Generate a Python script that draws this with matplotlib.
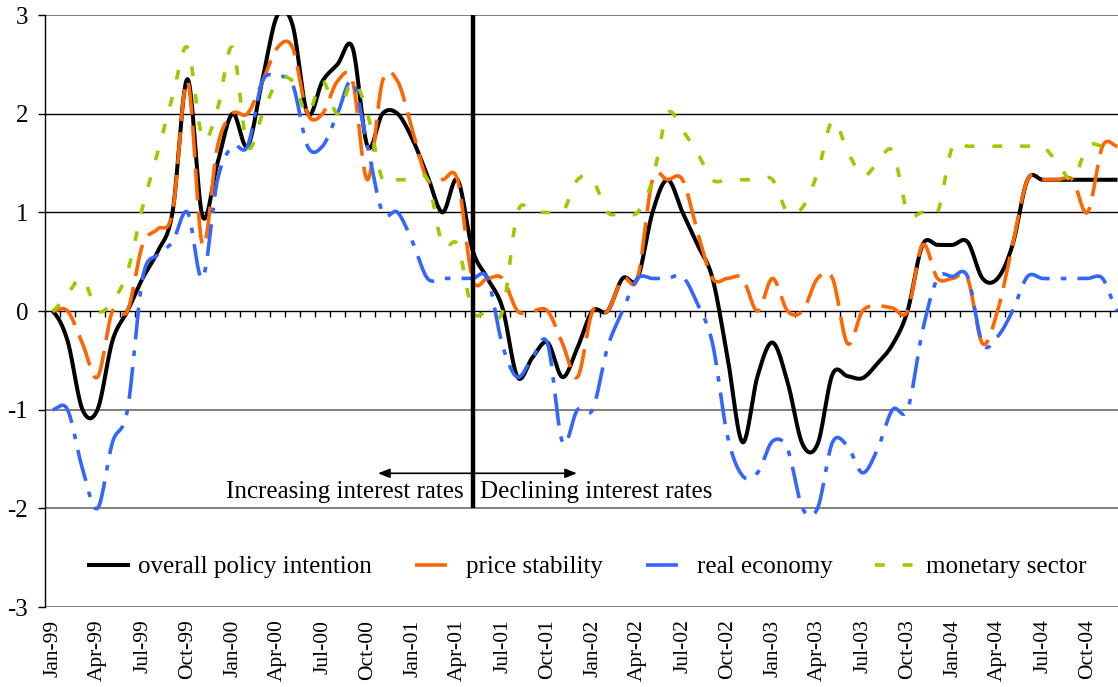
import numpy as np
import pandas as pd
import matplotlib
matplotlib.use("Agg")
import matplotlib.pyplot as plt
from matplotlib.ticker import FixedLocator

plt.rcParams['font.family'] = ['Liberation Serif', 'DejaVu Serif']
plt.rcParams['lines.scale_dashes'] = False

# ---------------- data ----------------
months = pd.date_range('1999-01-01', periods=72, freq='MS').strftime('%b-%y').tolist()

overall = [0.0, -0.3, -1.0, -1.0, -0.3, 0.0, 0.33, 0.6, 1.0, 2.35, 0.96, 1.5,
           2.0, 1.67, 2.35, 3.0, 2.9, 2.0, 2.33, 2.5, 2.67, 1.67, 2.0, 2.0,
           1.74, 1.37, 1.0, 1.33, 0.62, 0.33, 0.03, -0.67, -0.47, -0.32, -0.67, -0.37,
           0.0, 0.0, 0.33, 0.33, 1.0, 1.33, 1.0, 0.67, 0.33, -0.47, -1.33, -0.66,
           -0.32, -0.72, -1.35, -1.35, -0.64, -0.66, -0.68, -0.53, -0.34, 0.0, 0.67, 0.67,
           0.67, 0.7, 0.33, 0.33, 0.67, 1.33, 1.33, 1.33, 1.33, 1.33, 1.33, 1.33]

price = [0.0, 0.0, -0.33, -0.67, 0.0, 0.0, 0.67, 0.83, 1.0, 2.33, 0.67, 1.67,
         2.0, 2.0, 2.33, 2.67, 2.67, 2.0, 2.0, 2.33, 2.33, 1.33, 2.33, 2.33,
         1.83, 1.33, 1.33, 1.33, 0.33, 0.33, 0.33, 0.0, 0.0, 0.0, -0.33, -0.67,
         0.0, 0.0, 0.33, 0.33, 1.33, 1.33, 1.33, 0.8, 0.33, 0.33, 0.33, 0.0,
         0.33, 0.0, 0.0, 0.33, 0.33, -0.33, 0.0, 0.05, 0.03, 0.0, 0.67, 0.33,
         0.33, 0.33, -0.33, 0.0, 0.67, 1.33, 1.33, 1.33, 1.33, 1.0, 1.67, 1.67]

real = [-1.0, -1.0, -1.6, -2.0, -1.33, -1.0, 0.33, 0.57, 0.7, 1.0, 0.33, 1.33,
        1.67, 1.67, 2.33, 2.37, 2.3, 1.67, 1.67, 2.0, 2.33, 1.67, 1.0, 1.0,
        0.7, 0.33, 0.33, 0.33, 0.33, 0.33, -0.35, -0.67, -0.47, -0.33, -1.33, -1.0,
        -1.0, -0.37, 0.0, 0.33, 0.33, 0.33, 0.35, 0.07, -0.33, -1.27, -1.67, -1.64,
        -1.32, -1.4, -2.0, -2.0, -1.33, -1.37, -1.64, -1.4, -1.0, -1.0, -0.2, 0.33,
        0.35, 0.35, -0.33, -0.26, 0.0, 0.35, 0.33, 0.33, 0.33, 0.33, 0.33, 0.0]

monetary = [0.0, 0.17, 0.33, 0.0, 0.1, 0.4, 1.05, 1.6, 2.17, 2.67, 1.75, 2.05,
            2.67, 1.67, 2.0, 2.33, 2.33, 2.0, 2.33, 2.0, 2.33, 2.0, 1.33, 1.33,
            1.33, 1.33, 0.67, 0.67, 0.0, 0.0, 0.0, 1.0, 1.0, 1.0, 1.0, 1.33,
            1.33, 1.0, 1.0, 1.0, 1.33, 2.0, 1.83, 1.6, 1.33, 1.33, 1.33, 1.33,
            1.33, 1.0, 1.05, 1.4, 1.93, 1.62, 1.37, 1.5, 1.62, 1.0, 1.0, 1.0,
            1.67, 1.67, 1.67, 1.67, 1.67, 1.67, 1.67, 1.5, 1.33, 1.67, 1.67, 1.67]

series_labels = ['overall policy intention', 'price stability', 'real economy', 'monetary sector']
policy_switch = 28          # May-01
label_increase = 'Increasing interest rates'
label_decline = 'Declining interest rates'


def smooth(values, n=24):
    """Excel-like smoothed line (Catmull-Rom through the monthly points)."""
    y = np.asarray(values, float)
    k = len(y)
    yp = np.concatenate([[y[0]], y, [y[-1]]])
    m = (yp[2:] - yp[:-2]) / 2.0
    xs, ys = [], []
    t = np.linspace(0, 1, n, endpoint=False)
    for i in range(k - 1):
        h00 = 2 * t**3 - 3 * t**2 + 1
        h10 = t**3 - 2 * t**2 + t
        h01 = -2 * t**3 + 3 * t**2
        h11 = t**3 - t**2
        xs.append(i + t)
        ys.append(h00 * y[i] + h10 * m[i] + h01 * y[i + 1] + h11 * m[i + 1])
    xs.append([k - 1])
    ys.append([y[-1]])
    return np.concatenate(xs), np.concatenate(ys)


W, H = 1118, 687
fig = plt.figure(figsize=(W / 100, H / 100), dpi=100)
ax = fig.add_axes([45 / W, 1 - 607 / H, (W - 45) / W, (607 - 15) / H])

styles = [
    dict(color='#000000', lw=2.9, linestyle='-', zorder=3),
    dict(color='#FF6600', lw=2.6, linestyle=(0, (23, 8)), zorder=4),
    dict(color='#3366FF', lw=2.6, linestyle=(0, (23, 8, 4, 8)), zorder=5),
    dict(color='#99CC00', lw=2.6, linestyle=(0, (7, 13)), zorder=6),
]
handles = []
for vals, lab, st in zip([overall, price, real, monetary], series_labels, styles):
    xs, ys = smooth(vals)
    ln, = ax.plot(xs, ys, label=lab, solid_capstyle='butt', dash_capstyle='butt', **st)
    handles.append(ln)

# gridlines
for g in [3, 2, 1, -1, -2, -3]:
    ax.axhline(g, color='#000000' if g in (1, 2) else '#808080', lw=1.0 if g in (1, 2) else 1.4,
               zorder=1)

ax.set_xlim(-0.5, 71.03)
ax.set_ylim(-3, 3)

# spines: left axis and the category axis at zero
for s in ['right', 'bottom']:
    ax.spines[s].set_visible(False)
ax.spines['left'].set_color('black')
ax.spines['left'].set_linewidth(1.0)
ax.spines['top'].set_position(('data', 0))
ax.spines['top'].set_color('black')
ax.spines['top'].set_linewidth(1.0)
ax.spines['top'].set_zorder(2)

ax.set_yticks([-3, -2, -1, 0, 1, 2, 3])
ax.set_yticklabels(['-3', '-2', '-1', '0', '1', '2', '3'])
ax.tick_params(axis='y', direction='out', length=5, width=1, pad=7, labelsize=18)

ax.xaxis.set_major_locator(FixedLocator(list(range(0, 72, 3))))
ax.set_xticklabels(months[::3], rotation=90)
ax.xaxis.set_minor_locator(FixedLocator([i - 0.5 for i in range(0, 73)]))
ax.tick_params(axis='x', which='major', bottom=True, top=False, length=0, pad=9, labelsize=15.5)
ax.tick_params(axis='x', which='minor', bottom=False, top=True, direction='in', length=4, width=1)

# policy switch marker and annotations
ax.vlines(policy_switch, -2, 3, color='black', lw=3.2, zorder=8)
ax.annotate('', xy=(21.7, -1.645), xytext=(34.96, -1.645),
            arrowprops=dict(arrowstyle='<|-|>,head_length=0.7,head_width=0.28', lw=1.2,
                            color='black', shrinkA=0, shrinkB=0), zorder=9)
ax.text(27.4, -1.90, label_increase, ha='right', va='baseline', fontsize=18, zorder=9)
ax.text(28.5, -1.90, label_decline, ha='left', va='baseline', fontsize=18, zorder=9)

ax.legend(handles=handles, ncol=4, loc='center left', bbox_to_anchor=(87 / W, 1 - 567 / H),
          bbox_transform=fig.transFigure, frameon=False, fontsize=18,
          handlelength=1.72, handletextpad=0.32, columnspacing=1.72,
          borderpad=0, borderaxespad=0)

fig.savefig('out.png', dpi=100)
